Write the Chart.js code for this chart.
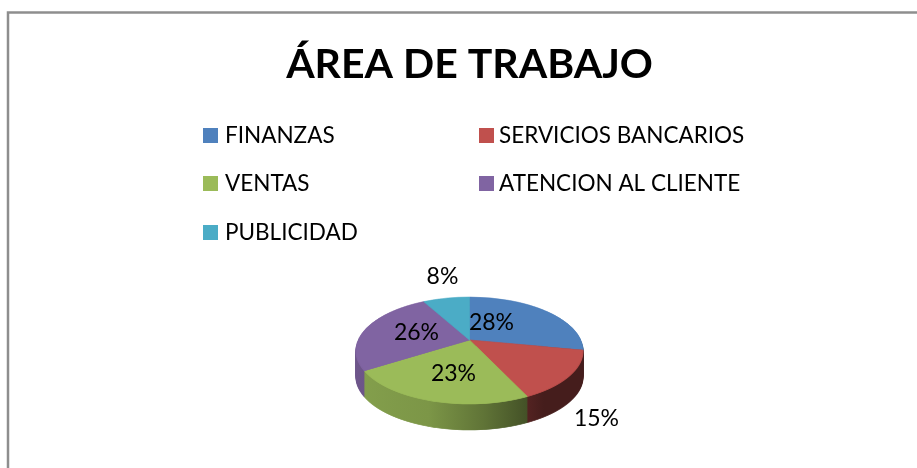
<!DOCTYPE html>
<html><head><meta charset="utf-8">
<style>html,body{margin:0;padding:0;background:#fff;overflow:hidden}canvas{display:block}</style>
<script src="https://cdn.jsdelivr.net/npm/chart.js@4/dist/chart.umd.min.js"></script>
</head><body>
<div style="width:917px;height:468px;position:relative"><canvas id="c" width="917" height="468"></canvas></div>
<script>
const chartTitle = "ÁREA DE TRABAJO";
const categories = ["FINANZAS","SERVICIOS BANCARIOS","VENTAS","ATENCION AL CLIENTE","PUBLICIDAD"];
const percentages = [28,15,23,26,8];
const sliceColors = ["#4f81bd","#c0504d","#9bbb59","#8064a2","#4bacc6"];
// label offsets from the pie apex (px)
const labelOffsets = [[22,-17],[127,79],[-16,34],[-53,-7],[-27,-63]];
const legendColumns = [203,479];
const legendTextX = [225,499];
const legendRows = [143,191,240];
// perspective tilt of the pie disc: screen radius, vertical gain, foreshortening
const view = {apexY:340, radius:111.3, gain:51.4, k:-0.1963, depth:26, top:-44, bottom:66};
const FONT = "Lato, Carlito, sans-serif";

function rgb(h){return [1,3,5].map(i=>parseInt(h.substr(i,2),16));}
function shade(h,f){const c=rgb(h).map(v=>Math.round(v*f));return `rgb(${c[0]},${c[1]},${c[2]})`;}
const sideStops=[[0,.86],[.35,.8],[.55,.62],[.78,.36],[1,.36]];

// Draws the library's arc elements one screen row at a time through the perspective tilt
function drawFace(chart,arcs,dy,styler){
  const ctx=chart.ctx, W=chart.width;
  const r=arcs[0].outerRadius, srcX=arcs[0].x, srcY=arcs[0].y, apex=view.apexY+dy;
  const {gain:A,k,radius:R}=view;
  arcs.forEach((a,i)=>{
    const saved=a.options, st=styler(i), o=Object.create(saved);
    o.backgroundColor=st;o.borderColor=st;
    a.options=o;
  });
  for(let row=Math.floor(apex+view.top);row<apex+view.bottom;row++){
    const yc=row+.5, t=(yc-apex)/A, den=1-k*t;
    if(den<=0) continue;
    const v=t/den;
    const s=1/(1+k*v);
    const sy=r/A/(den*den);
    ctx.save();
    ctx.beginPath();ctx.rect(0,row,W,1);ctx.clip();
    ctx.translate(srcX,yc);
    ctx.scale(R/r*s,1/sy);
    ctx.translate(-srcX,-(srcY+v*r));
    arcs.forEach(a=>a.draw(ctx));
    ctx.restore();
  }
  arcs.forEach(a=>{a.options=Object.getPrototypeOf(a.options);});
}

const pie3d={
  id:"pie3d",
  beforeDraw(chart){
    const ctx=chart.ctx;
    ctx.save();
    ctx.strokeStyle="#8e8e8e";ctx.lineWidth=2.5;
    ctx.beginPath();ctx.moveTo(8,468);ctx.lineTo(8,12.5);ctx.lineTo(917,12.5);ctx.stroke();
    ctx.restore();
  },
  beforeDatasetsDraw(chart){
    const ctx=chart.ctx, arcs=chart.getDatasetMeta(0).data;
    const cx=arcs[0].x, r=arcs[0].outerRadius;
    const grads=sliceColors.map(c=>{
      const g=ctx.createLinearGradient(cx-r,0,cx+r,0);
      sideStops.forEach(([p,f])=>g.addColorStop(p,shade(c,f)));
      return g;
    });
    for(let d=view.depth;d>=1;d--) drawFace(chart,arcs,d,i=>grads[i]);
    drawFace(chart,arcs,0,i=>sliceColors[i]);
    return false;
  },
  afterDraw(chart){
    const ctx=chart.ctx, arcs=chart.getDatasetMeta(0).data;
    ctx.save();
    ctx.fillStyle="#000";
    ctx.textBaseline="alphabetic";ctx.textAlign="left";
    ctx.font=`22.5px ${FONT}`;
    categories.forEach((t,i)=>{
      const x=legendColumns[i%2], y=legendRows[Math.floor(i/2)];
      ctx.fillStyle=sliceColors[i];
      ctx.fillRect(x,y-15,15,15);
      ctx.fillStyle="#000";
      ctx.fillText(t,legendTextX[i%2],y);
    });
    ctx.font=`23px ${FONT}`;
    ctx.textAlign="center";ctx.textBaseline="middle";
    percentages.forEach((v,i)=>{
      ctx.fillText(v+"%",arcs[i].x+labelOffsets[i][0],view.apexY+labelOffsets[i][1]);
    });
    ctx.restore();
  }
};

new Chart(document.getElementById("c"),{
  type:"pie",
  data:{labels:categories,datasets:[{data:percentages,backgroundColor:sliceColors,borderColor:sliceColors,borderWidth:1}]},
  plugins:[pie3d],
  options:{
    responsive:false,animation:false,
    layout:{padding:{left:22,right:0,top:0,bottom:150}},
    plugins:{
      legend:{display:false},tooltip:{enabled:false},
      title:{display:true,text:chartTitle,color:"#000",align:"center",
        font:{family:FONT,size:41,weight:"bold",lineHeight:1.2},
        padding:{top:40,bottom:0}}
    }
  }
});
</script>
</body></html>
